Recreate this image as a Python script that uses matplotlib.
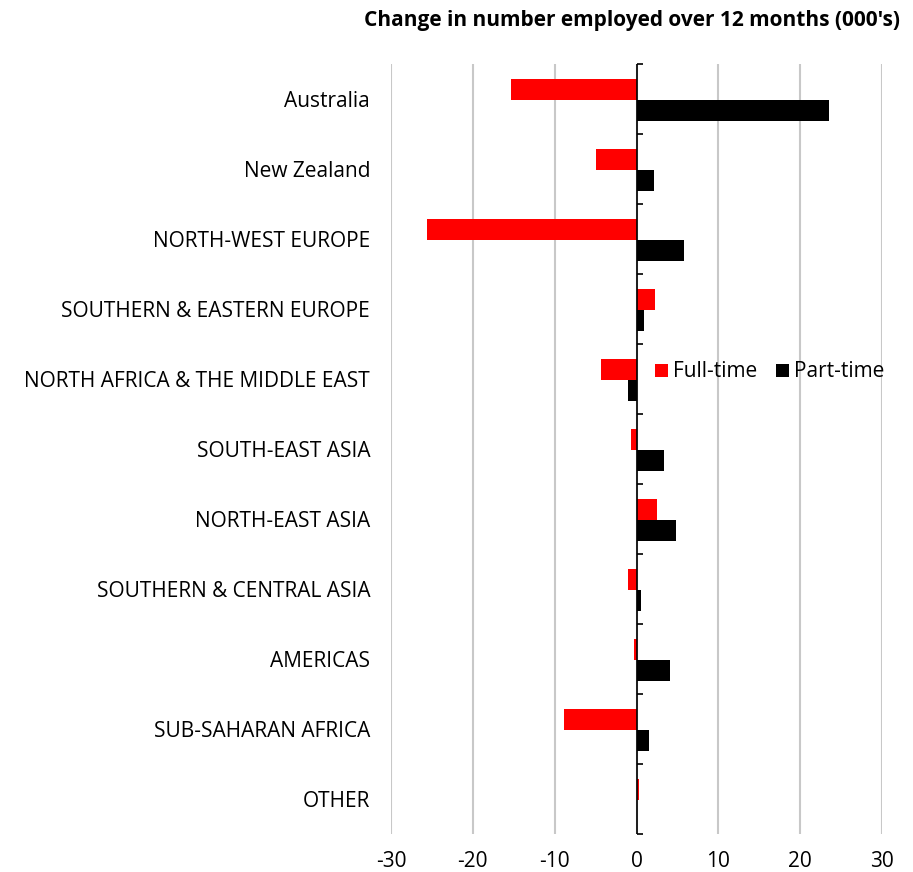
import numpy as np
import matplotlib.pyplot as plt

regions = ['Australia', 'New Zealand', 'NORTH-WEST EUROPE', 'SOUTHERN & EASTERN EUROPE',
           'NORTH AFRICA & THE MIDDLE EAST', 'SOUTH-EAST ASIA', 'NORTH-EAST ASIA',
           'SOUTHERN & CENTRAL ASIA', 'AMERICAS', 'SUB-SAHARAN AFRICA', 'OTHER']
full_time = [-15.4, -4.9, -25.6, 2.3, -4.3, -0.65, 2.5, -1.0, -0.25, -8.85, 0.35]
part_time = [23.55, 2.1, 5.8, 0.9, -1.0, 3.4, 4.8, 0.5, 4.1, 1.5, 0.0]
xticks = [-30, -20, -10, 0, 10, 20, 30]

plt.rcParams['font.family'] = ['Open Sans', 'DejaVu Sans']
fs = 15

fig = plt.figure(figsize=(9.13, 8.72), dpi=100)
ax = fig.add_axes([0.4283, 0.0436, 0.5378, 0.883])

y = np.arange(len(regions))
h = 0.3
ax.barh(y - 0.14, full_time, height=h, color='#ff0000', label='Full-time', zorder=3)
ax.barh(y + 0.16, part_time, height=h, color='#000000', label='Part-time', zorder=3)

ax.set_xlim(-30, 30)
ax.set_ylim(len(regions) - 0.5, -0.5)
ax.set_xticks(xticks)
ax.set_xticklabels([str(v) for v in xticks], fontsize=fs)
ax.tick_params(axis='x', length=0, pad=12)
ax.set_yticks(y)
ax.set_yticklabels(regions, fontsize=fs)
ax.tick_params(axis='y', length=0, pad=15)

for s in ax.spines.values():
    s.set_visible(False)
ax.grid(axis='x', color='#c8c8c8', linewidth=1.5, zorder=0)

# vertical axis at zero with category-boundary ticks
ax.axvline(0, color='black', linewidth=1.2, zorder=4)
bounds = np.arange(len(regions) + 1) - 0.5
ax.hlines(bounds, 0, 0.85, color='black', linewidth=1.2, zorder=4, clip_on=False)

leg = ax.legend(loc='center left', bbox_to_anchor=(0.5, 0.6), ncol=2, frameon=False,
                fontsize=fs, handlelength=0.6, handleheight=0.6, handletextpad=0.25,
                columnspacing=0.9)

fig.text(0.986, 0.977, "Change in number employed over 12 months (000's)",
         ha='right', va='center', fontsize=fs, fontweight='bold')

fig.savefig('out.png', dpi=100)
